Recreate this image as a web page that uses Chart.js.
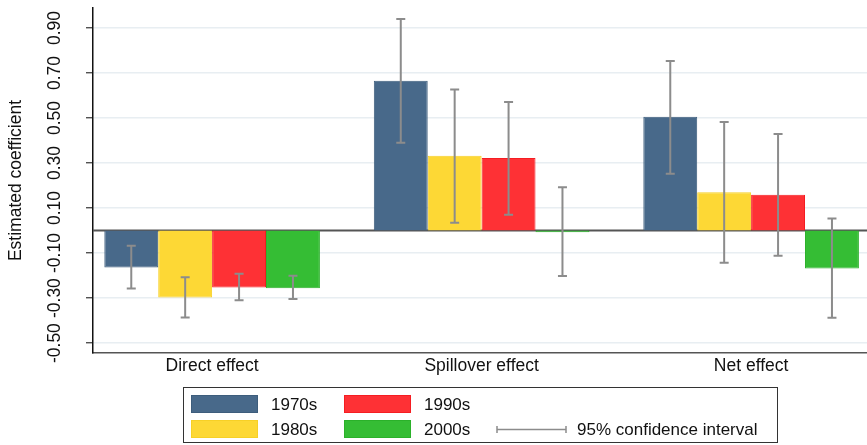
<!DOCTYPE html>
<html>
<head>
<meta charset="utf-8">
<script src="https://cdn.jsdelivr.net/npm/chart.js@4.4.1/dist/chart.umd.min.js"></script>
<style>
  html, body { margin: 0; padding: 0; background: #fff; }
  canvas { display: block; }
</style>
</head>
<body>
<canvas id="chart" width="867" height="445"></canvas>
<script>
// Categories and series (point estimates + 95% CI bounds)
const categories = ['Direct effect', 'Spillover effect', 'Net effect'];
const decades = ['1970s', '1980s', '1990s', '2000s'];

const coef1970s = [-0.164, 0.666, 0.506];
const coef1980s = [-0.297, 0.333, 0.170];
const coef1990s = [-0.253, 0.322, 0.159];
const coef2000s = [-0.256, -0.008, -0.168];

const low1970s = [-0.257, 0.390, 0.252];
const high1970s = [-0.067, 0.940, 0.753];
const low1980s = [-0.386, 0.035, -0.143];
const high1980s = [-0.207, 0.627, 0.482];
const low1990s = [-0.310, 0.070, -0.112];
const high1990s = [-0.192, 0.571, 0.429];
const low2000s = [-0.304, -0.202, -0.387];
const high2000s = [-0.201, 0.193, 0.054];

// Axis ticks and ranges
const yTicks = [-0.5, -0.3, -0.1, 0.1, 0.3, 0.5, 0.7, 0.9];
const yMin = -0.544;
const yMax = 0.989;
const xMin = 0.558;
const xMax = 3.430;

const fills = ['#48698a', '#fdd835', '#fe3135', '#35bd34'];
const borders = ['#3d5d7c', '#f7d026', '#f51d22', '#2bb12a'];
const ciColor = '#8c8c8c';
const FONT = "'Liberation Sans', Arial, sans-serif";

Chart.defaults.font.family = FONT;

const coefs = [coef1970s, coef1980s, coef1990s, coef2000s];
const lows = [low1970s, low1980s, low1990s, low2000s];
const highs = [high1970s, high1980s, high1990s, high2000s];

const datasets = decades.map((d, i) => ({
    label: d,
    data: coefs[i].map((v, j) => ({ x: j + 1, y: v })),
    ciLow: lows[i],
    ciHigh: highs[i],
    backgroundColor: fills[i],
    borderColor: borders[i],
    borderWidth: 1,
    borderSkipped: 'start',
    categoryPercentage: 0.8,
    barPercentage: 1.0
}));

// zero line, CI whiskers, rotated y labels and the legend box
const extras = {
    id: 'extras',
    beforeDatasetsDraw(chart) {
        const { ctx, chartArea, scales: { y } } = chart;
        const y0 = y.getPixelForValue(0);
        ctx.save();
        ctx.strokeStyle = '#555';
        ctx.lineWidth = 2;
        ctx.beginPath();
        ctx.moveTo(chartArea.left, y0);
        ctx.lineTo(chartArea.right, y0);
        ctx.stroke();
        ctx.restore();
    },
    afterDatasetsDraw(chart) {
        const { ctx, scales: { y } } = chart;
        ctx.save();
        ctx.strokeStyle = ciColor;
        ctx.lineWidth = 2;
        chart.data.datasets.forEach((ds, i) => {
            chart.getDatasetMeta(i).data.forEach((bar, j) => {
                const top = y.getPixelForValue(ds.ciHigh[j]);
                const bot = y.getPixelForValue(ds.ciLow[j]);
                ctx.beginPath();
                ctx.moveTo(bar.x, top); ctx.lineTo(bar.x, bot);
                ctx.moveTo(bar.x - 4.5, top); ctx.lineTo(bar.x + 4.5, top);
                ctx.moveTo(bar.x - 4.5, bot); ctx.lineTo(bar.x + 4.5, bot);
                ctx.stroke();
            });
        });
        ctx.restore();
    },
    afterDraw(chart) {
        const { ctx, chartArea, scales: { y } } = chart;
        ctx.save();
        ctx.fillStyle = '#111';
        ctx.textAlign = 'center';
        ctx.textBaseline = 'middle';

        // y tick labels, rotated like the original
        ctx.font = '17.5px ' + FONT;
        y.ticks.forEach(t => {
            ctx.save();
            ctx.translate(55, y.getPixelForValue(t.value));
            ctx.rotate(-Math.PI / 2);
            ctx.fillText(t.value.toFixed(2), 0, 0);
            ctx.restore();
        });

        // y title
        ctx.save();
        ctx.translate(16, (chartArea.top + chartArea.bottom) / 2);
        ctx.rotate(-Math.PI / 2);
        ctx.fillText('Estimated coefficient', 0, 0);
        ctx.restore();

        // legend
        ctx.strokeStyle = '#333';
        ctx.lineWidth = 1;
        ctx.strokeRect(183.5, 387.5, 594, 55);
        ctx.font = '17px ' + FONT;
        ctx.textAlign = 'left';
        chart.data.datasets.forEach((ds, i) => {
            const col = Math.floor(i / 2), row = i % 2;
            const sx = 191 + col * 153, sy = 395 + row * 25;
            ctx.fillStyle = ds.backgroundColor;
            ctx.fillRect(sx, sy, 67, 18);
            ctx.strokeStyle = ds.borderColor;
            ctx.strokeRect(sx + 0.5, sy + 0.5, 66, 17);
            ctx.fillStyle = '#111';
            ctx.fillText(ds.label, sx + 80, sy + 10);
        });
        ctx.strokeStyle = ciColor;
        ctx.lineWidth = 1.5;
        ctx.beginPath();
        ctx.moveTo(497, 429.5); ctx.lineTo(566, 429.5);
        ctx.moveTo(497, 426); ctx.lineTo(497, 433);
        ctx.moveTo(566, 426); ctx.lineTo(566, 433);
        ctx.stroke();
        ctx.fillStyle = '#111';
        ctx.fillText('95% confidence interval', 577, 430);
        ctx.restore();
    }
};

new Chart(document.getElementById('chart'), {
    type: 'bar',
    data: { datasets },
    plugins: [extras],
    options: {
        responsive: false,
        animation: false,
        layout: { padding: { top: 8, right: 0, bottom: 60, left: 0 } },
        plugins: { legend: { display: false }, tooltip: { enabled: false } },
        scales: {
            x: {
                type: 'linear',
                min: xMin,
                max: xMax,
                offset: false,
                afterBuildTicks: s => { s.ticks = categories.map((c, i) => ({ value: i + 1 })); },
                afterFit: s => { s.height = 32; },
                grid: { display: false, drawTicks: false },
                border: { display: true, color: '#555', width: 1.5 },
                ticks: {
                    autoSkip: false,
                    maxRotation: 0,
                    padding: 3,
                    color: '#111',
                    font: { size: 17.5 },
                    callback: v => categories[v - 1]
                }
            },
            y: {
                min: yMin,
                max: yMax,
                afterBuildTicks: s => { s.ticks = yTicks.map(v => ({ value: v })); },
                afterFit: s => { s.width = 93; },
                grid: { color: '#e8eef2', lineWidth: 1.5, drawTicks: true, tickLength: 7, tickColor: '#333', tickWidth: 1.2 },
                border: { color: '#111', width: 1.5 },
                ticks: { display: false }
            }
        }
    }
});
</script>
</body>
</html>
